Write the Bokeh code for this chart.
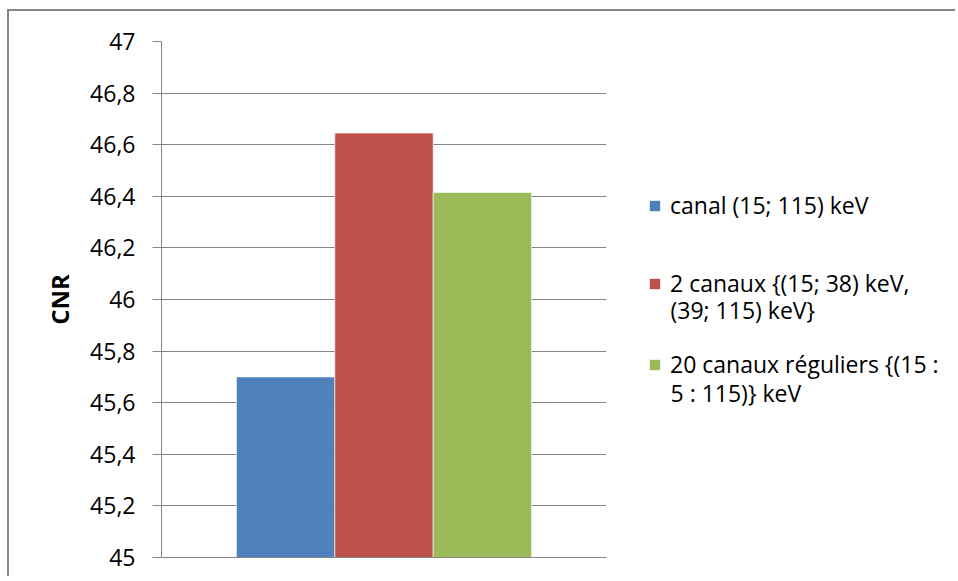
from bokeh.plotting import figure
from bokeh.layouts import row
from bokeh.models import (Range1d, FactorRange, FixedTicker, CustomJSTickFormatter,
                          Legend, LegendItem, ColumnDataSource, Label, Grid)
from bokeh.embed import file_html
from bokeh.resources import INLINE

# ---- data ----
series = ["canal (15; 115) keV",
          "2 canaux {(15; 38) keV, (39; 115) keV}",
          "20 canaux réguliers {(15 : 5 : 115)} keV"]
# how each legend label wraps (first line, continuation line)
legend_lines = [("canal (15; 115) keV", ""),
                ("2 canaux {(15; 38) keV,", "(39; 115) keV}"),
                ("20 canaux réguliers {(15 :", "5 : 115)} keV")]
cnr = [45.70, 46.645, 46.415]
colors = ["#4F81BD", "#C0504D", "#9BBB59"]
y_ticks = [45.0, 45.2, 45.4, 45.6, 45.8, 46.0, 46.2, 46.4, 46.6, 46.8, 47.0]
y_label = "CNR"
y_min, y_max = 45.0, 47.0

FONT = "Open Sans"
GRID = "#868686"
H = 565

src = ColumnDataSource(dict(s=series, v=cnr, c=colors))

# ---------------- main chart ----------------
p = figure(width=600, height=H, output_backend="svg", toolbar_location=None,
           x_range=FactorRange(factors=series, range_padding=0.508),
           y_range=Range1d(y_min, y_max),
           min_border_left=152, min_border_right=3,
           min_border_top=30, min_border_bottom=19)
p.outline_line_color = None
p.background_fill_color = "white"
p.border_fill_color = "white"

p.vbar(x="s", top="v", bottom=y_min, width=1.0, source=src,
       fill_color="c", line_color="white", line_alpha=0.6, line_width=1)

p.yaxis.ticker = FixedTicker(ticks=y_ticks)
p.yaxis.formatter = CustomJSTickFormatter(code="""
    const s = (Math.round(tick * 10) / 10).toString();
    return s.replace('.', ',');
""")
p.yaxis.axis_line_color = GRID
p.yaxis.major_tick_line_color = GRID
p.yaxis.major_tick_out = 9
p.yaxis.major_tick_in = 0
p.yaxis.minor_tick_line_color = None
p.yaxis.major_label_standoff = 17
p.yaxis.major_label_text_font = FONT
p.yaxis.major_label_text_font_size = "23px"
p.yaxis.major_label_text_color = "#000000"
p.yaxis.axis_label = y_label
p.yaxis.axis_label_text_font = FONT
p.yaxis.axis_label_text_font_size = "24px"
p.yaxis.axis_label_text_font_style = "bold"
p.yaxis.axis_label_text_color = "#000000"
p.yaxis.axis_label_standoff = 11

p.xaxis.axis_line_color = GRID
p.xaxis.major_tick_line_color = None
p.xaxis.minor_tick_line_color = None
p.xaxis.major_label_text_font_size = "0px"
p.xaxis.major_label_text_alpha = 0

p.xgrid.grid_line_color = None
p.ygrid.grid_line_color = GRID
p.ygrid.grid_line_width = 1

# ---------------- legend panel ----------------
pl = figure(width=346, height=H, output_backend="svg", toolbar_location=None,
            x_range=FactorRange(factors=series), y_range=Range1d(1000, 1001),
            x_axis_type=None, y_axis_type=None,
            min_border_left=0, min_border_right=0,
            min_border_top=0, min_border_bottom=0)
pl.outline_line_color = None
pl.background_fill_color = "white"
pl.border_fill_color = "white"
for obj in list(pl.center):
    if isinstance(obj, Grid):
        obj.visible = False
# legend swatches only (zero-width, outside this panel's visible range)
rl = pl.vbar(x="s", top="v", bottom=y_min, width=0.0, source=src,
             fill_color="c", line_color=None)

legend_y = [336, 258, 177]      # legend positions (screen px from panel bottom)
cont_y = [0, 248, 165]          # continuation-line centres
for i in range(len(series)):
    first, second = legend_lines[i]
    lg = Legend(items=[LegendItem(label=first, renderers=[rl], index=i)],
                location=(39, legend_y[i]), orientation="vertical",
                glyph_width=13, glyph_height=13, label_standoff=9,
                label_text_font=FONT, label_text_font_size="23px",
                label_text_color="#000000",
                padding=0, margin=0, spacing=0,
                border_line_color=None, background_fill_alpha=0)
    pl.add_layout(lg)
    if second:
        pl.add_layout(Label(x=61, y=cont_y[i], x_units="screen", y_units="screen",
                            text=second, text_font=FONT, text_font_size="23px",
                            text_color="#000000", text_baseline="middle"))

page = row(p, pl, styles={"border-left": f"2px solid {GRID}",
                          "border-top": f"2px solid {GRID}",
                          "margin-left": "7px", "margin-top": "9px"})

open("out.html", "w").write(file_html(page, INLINE))
